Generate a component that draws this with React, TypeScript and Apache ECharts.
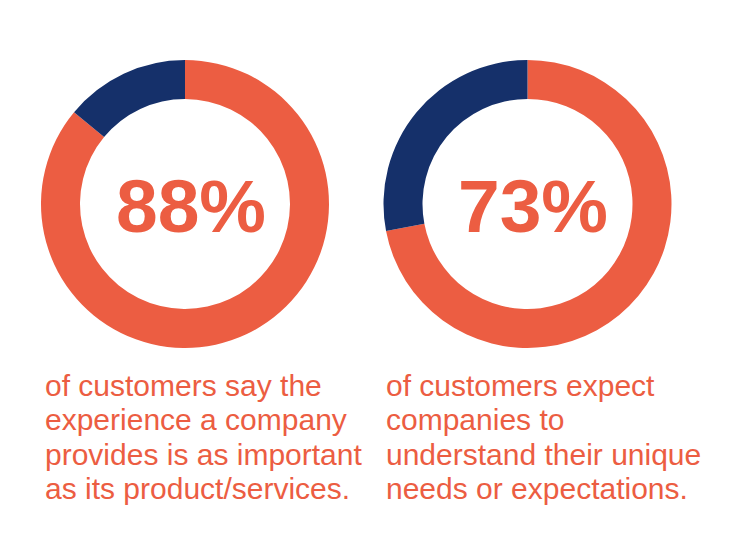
import React, { useEffect, useRef } from "react";
import * as echarts from "echarts";

const segmentNames = ["Share", "Rest"];
const leftValues = [86, 14];
const rightValues = [72, 28];
const bigLabels = ["88%", "73%"];
const leftCaption = [
  "of customers say the",
  "experience a company",
  "provides is as important",
  "as its product/services.",
];
const rightCaption = [
  "of customers expect",
  "companies to",
  "understand their unique",
  "needs or expectations.",
];

const ORANGE = "#EC5D42";
const NAVY = "#15306A";

export default function App() {
  const ref = useRef<HTMLDivElement>(null);
  useEffect(() => {
    if (!ref.current) return;
    const chart = echarts.init(ref.current, null, { renderer: "svg" });
    const mkPie = (values: number[], cx: number) => ({
      type: "pie",
      center: [cx, 204],
      radius: [105, 144],
      startAngle: 90,
      clockwise: true,
      silent: true,
      label: { show: false },
      labelLine: { show: false },
      itemStyle: { borderWidth: 0 },
      data: values.map((v, i) => ({
        name: segmentNames[i],
        value: v,
        itemStyle: { color: i === 0 ? ORANGE : NAVY },
      })),
    });
    const captionStyle = {
      fill: ORANGE,
      fontSize: 30,
      fontFamily: "Liberation Sans, Arial, sans-serif",
      lineHeight: 34.5,
      textVerticalAlign: "top",
    };
    const bigStyle = {
      fill: ORANGE,
      fontSize: 75,
      fontWeight: "bold",
      fontFamily: "Liberation Sans, Arial, sans-serif",
      textAlign: "center",
      textVerticalAlign: "middle",
    };
    chart.setOption({
      animation: false,
      backgroundColor: "#ffffff",
      series: [mkPie(leftValues, 185), mkPie(rightValues, 527.5)],
      graphic: [
        { type: "text", x: 191, y: 206, style: { ...bigStyle, text: bigLabels[0] } },
        { type: "text", x: 533, y: 206, style: { ...bigStyle, text: bigLabels[1] } },
        {
          type: "text",
          x: 45,
          y: 368,
          style: { ...captionStyle, text: leftCaption.join("\n") },
        },
        {
          type: "text",
          x: 386,
          y: 368,
          style: { ...captionStyle, text: rightCaption.join("\n") },
        },
      ],
    });
    return () => chart.dispose();
  }, []);
  return (
    <div
      ref={ref}
      style={{ position: "fixed", left: 0, top: 0, width: 750, height: 556 }}
    />
  );
}
